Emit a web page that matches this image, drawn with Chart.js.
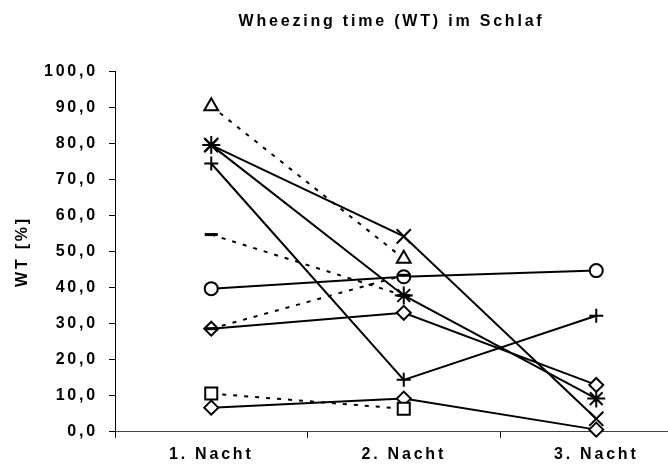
<!DOCTYPE html>
<html>
<head>
<meta charset="utf-8">
<script src="https://cdn.jsdelivr.net/npm/chart.js@4/dist/chart.umd.min.js"></script>
<style>
  html, body { margin: 0; padding: 0; background: #fff; }
  canvas { display: block; }
</style>
</head>
<body>
<canvas id="wtChart" width="668" height="468"></canvas>
<script>
// Nights on the x axis
const categories = ["1. Nacht", "2. Nacht", "3. Nacht"];
const yTicks = [0, 10, 20, 30, 40, 50, 60, 70, 80, 90, 100];

// Patients followed over three nights (solid lines)
const patientCrossRot = [79.5, 54.2, 3.6];
const patientStar = [79.5, 37.8, 9.2];
const patientPlus = [74.4, 14.4, 32.2];
const patientCircle = [39.7, 43.0, 44.7];
const patientDiamondA = [28.6, 33.0, 13.0];
const patientDiamondB = [6.7, 9.2, 0.6];

// Patients with only two nights (dashed lines)
const patientTriangle = [90.3, 48.0];
const patientDashA = [54.7, 37.8];
const patientDashB = [28.6, 43.4];
const patientSquare = [10.6, 6.4];

const textFont = { family: "'Liberation Sans', Arial, sans-serif", size: 16, weight: "bold" };

// marker sizes so each symbol comes out roughly 12-14 px wide
const markerRadius = { circle: 6.5, rectRot: 7, rect: 8.5, cross: 7, crossRot: 10, star: 9, triangle: 8, line: 6.5 };

// turn a value list into {x, y} points, night n sits at x = n
function toPoints(values) {
    return values.map(function(v, i) { return { x: i + 1, y: v }; });
}

function series(values, style, dashed) {
    return {
        data: toPoints(values),
        borderColor: "#000",
        borderWidth: 2,
        borderDash: dashed ? [4, 7] : [],
        pointStyle: style,
        pointRadius: markerRadius[style],
        pointBorderWidth: style === "line" ? 3 : 2,
        pointBackgroundColor: "#fff",
        pointBorderColor: "#000",
        fill: false,
        tension: 0,
        clip: false
    };
}

// spaced-out lettering like the original
const letterSpacing = {
    id: "letterSpacing",
    beforeLayout: function(chart) { chart.ctx.letterSpacing = "2.8px"; },
    beforeDraw: function(chart) { chart.ctx.letterSpacing = "2.8px"; }
};

new Chart(document.getElementById("wtChart").getContext("2d"), {
    type: "line",
    data: {
        datasets: [
            series(patientTriangle, "triangle", true),
            series(patientDashA, "line", true),
            series(patientDashB, "line", true),
            series(patientSquare, "rect", true),
            series(patientCircle, "circle", false),
            series(patientDiamondA, "rectRot", false),
            series(patientDiamondB, "rectRot", false),
            series(patientPlus, "cross", false),
            series(patientStar, "star", false),
            series(patientCrossRot, "crossRot", false)
        ]
    },
    plugins: [letterSpacing],
    options: {
        responsive: false,
        animation: false,
        layout: { autoPadding: false, padding: { left: 0, right: 0, top: 0, bottom: -3 } },
        plugins: {
            legend: { display: false },
            tooltip: { enabled: false },
            title: {
                display: true,
                text: "Wheezing time (WT) im Schlaf",
                color: "#000",
                font: textFont,
                fullSize: false,
                padding: { top: 12, bottom: 40 }
            }
        },
        scales: {
            x: {
                type: "linear",
                min: 0.5,
                max: 0.5 + 553 / 192.5,
                afterBuildTicks: function(scale) {
                    scale.ticks = [0.5, 1, 1.5, 2, 2.5, 3].map(function(v) { return { value: v }; });
                },
                // the plot runs right up to the canvas edge
                afterFit: function(scale) {
                    scale.paddingLeft = 0;
                    scale.paddingRight = 0;
                },
                grid: {
                    drawOnChartArea: false,
                    drawTicks: true,
                    tickLength: 6,
                    tickColor: function(ctx) {
                        return ctx.tick && ctx.tick.value % 1 !== 0 ? "#000" : "rgba(0,0,0,0)";
                    }
                },
                border: { display: true, color: "#444", width: 1 },
                ticks: {
                    color: "#000",
                    font: textFont,
                    padding: 7,
                    maxRotation: 0,
                    autoSkip: false,
                    callback: function(v) {
                        return Number.isInteger(v) ? categories[v - 1] : "";
                    }
                }
            },
            y: {
                min: 0,
                max: 100,
                afterBuildTicks: function(scale) {
                    scale.ticks = yTicks.map(function(v) { return { value: v }; });
                },
                afterFit: function(scale) { scale.width = 115; },
                grid: {
                    drawOnChartArea: false,
                    drawTicks: true,
                    tickLength: 6,
                    tickColor: "#000"
                },
                border: { display: true, color: "#000", width: 1 },
                ticks: {
                    color: "#000",
                    font: textFont,
                    padding: 11,
                    callback: function(v) { return v.toFixed(1).replace(".", ","); }
                },
                title: {
                    display: true,
                    text: "WT [%]",
                    color: "#000",
                    font: textFont,
                    padding: { top: 13, bottom: 0 }
                }
            }
        }
    }
});
</script>
</body>
</html>
